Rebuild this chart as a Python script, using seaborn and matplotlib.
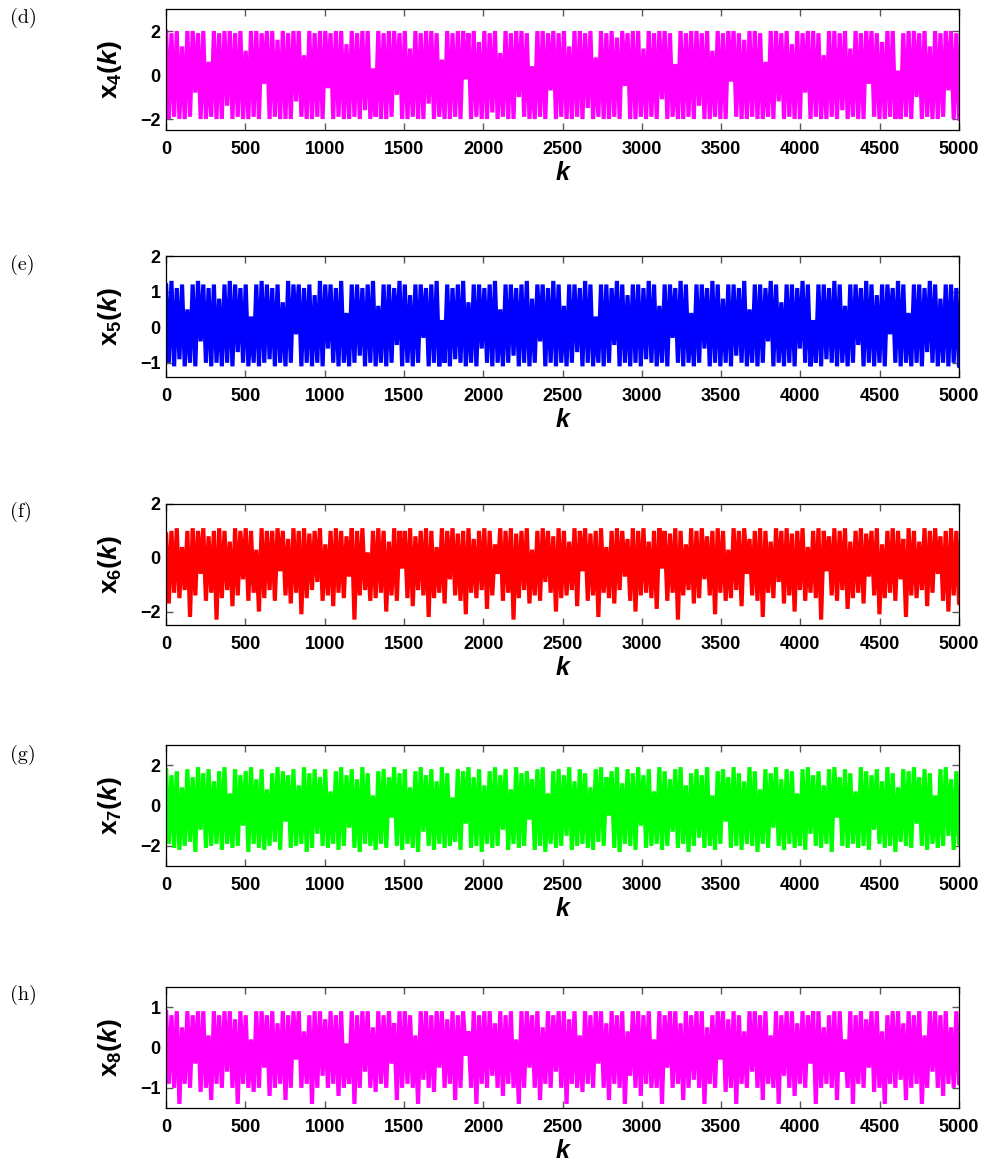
# =========================
# IMPORT LIBRARIES
# =========================

import numpy as np
import matplotlib
matplotlib.use("Agg")
import matplotlib.pyplot as plt
import seaborn as sns

# =========================
# DATA
# =========================

x4_vals = [
    2.0, -2.0, 1.9, -1.9, 2.0, -2.0, 1.3, -2.0, 2.0, -1.9, 2.0, -0.8, 1.9, -2.0, 2.0, -2.0, 0.6, -1.9, 2.0, -2.0,
    1.9, -2.0, 2.0, -1.4, 2.0, -2.0, 1.9, -1.9, 2.0, -2.0, 1.1, -2.0, 2.0, -1.9, 2.0, -2.0, 1.9, -0.4, 2.0, -2.0,
    2.0, -1.9, 1.6, -2.0, 2.0, -2.0, 1.9, -2.0, 2.0, -1.2, 2.0, -1.9, 0.9, -2.0, 2.0, -2.0, 1.9, -1.9, 2.0, -2.0,
    2.0, -0.6, 1.9, -2.0, 2.0, -1.9, 2.0, -2.0, 1.4, -2.0, 2.0, -1.9, 1.9, -2.0, 2.0, -1.6, 2.0, -2.0, 0.3, -1.9,
    2.0, -2.0, 1.9, -2.0, 2.0, -1.9, 2.0, -0.9, 1.9, -2.0, 2.0, -2.0, 1.2, -1.9, 2.0, -2.0, 1.9, -2.0, 2.0, -1.3,
    2.0, -2.0, 1.9, -1.9, 0.7, -2.0, 2.0, -2.0, 1.9, -1.9, 2.0, -2.0, 2.0, -0.2, 1.9, -2.0, 2.0, -1.9, 1.5, -2.0,
    2.0, -2.0, 1.9, -1.7, 2.0, -2.0, 1.0, -1.9, 2.0, -2.0, 1.9, -2.0, 2.0, -1.0, 2.0, -1.9, 1.9, -2.0, 0.4, -2.0,
    2.0, -1.9, 2.0, -2.0, 1.9, -0.7, 2.0, -2.0, 1.9, -1.9, 2.0, -2.0, 1.3, -2.0, 2.0, -1.9, 2.0, -2.0, 1.9, -1.5,
    2.0, -2.0, 0.8, -1.9, 2.0, -2.0, 1.9, -2.0, 2.0, -1.9, 1.7, -2.0, 2.0, -0.5, 1.9, -2.0, 2.0, -2.0, 2.0, -1.9,
    1.2, -2.0, 2.0, -1.9, 1.9, -2.0, 2.0, -1.1, 2.0, -2.0, 1.9, -1.9, 0.5, -2.0, 2.0, -2.0, 1.9, -1.9, 2.0, -2.0,
    2.0, -1.4, 1.9, -2.0, 2.0, -2.0, 1.1, -1.9, 2.0, -2.0, 1.9, -2.0, 2.0, -0.3, 2.0, -1.9, 1.9, -2.0, 1.6, -2.0,
    2.0, -1.9, 2.0, -2.0, 1.9, -2.0, 0.6, -1.9, 2.0, -2.0, 2.0, -1.2, 1.9, -2.0, 2.0, -1.9, 1.4, -2.0, 2.0, -2.0,
    1.9, -0.8, 2.0, -2.0, 2.0, -1.9, 1.9, -2.0, 0.9, -2.0, 2.0, -1.9, 2.0, -2.0, 1.9, -1.6, 2.0, -2.0, 1.2, -1.9,
    2.0, -2.0, 1.9, -2.0, 2.0, -0.4, 2.0, -1.9, 1.9, -2.0, 1.5, -2.0, 2.0, -1.9, 2.0, -2.0, 0.2, -2.0, 1.9, -1.9,
    2.0, -2.0, 2.0, -1.0, 1.9, -2.0, 2.0, -1.9, 1.3, -2.0, 2.0, -2.0, 1.9, -1.9, 2.0, -0.7, 2.0, -2.0, 1.9, -2.0,
]

x5_vals = [
    1.2, -1.0, 1.3, -1.1, 1.1, -0.9, 1.2, -1.1, 0.5, -1.0, 1.2, -1.1, 1.3, -0.4, 1.2, -1.0, 1.1, -1.1, 1.2, -1.0,
    0.8, -1.1, 1.2, -1.0, 1.3, -1.1, 1.2, -0.7, 1.1, -1.0, 1.2, -1.1, 0.3, -1.0, 1.2, -1.1, 1.3, -1.0, 1.2, -0.9,
    1.1, -1.1, 1.2, -1.0, 0.7, -1.1, 1.3, -1.0, 1.2, -0.2, 1.2, -1.1, 1.1, -1.0, 1.2, -1.1, 0.9, -1.0, 1.3, -1.1,
    1.2, -0.6, 1.2, -1.0, 1.1, -1.1, 1.3, -1.0, 0.4, -1.1, 1.2, -1.0, 1.2, -0.8, 1.1, -1.1, 1.2, -1.0, 1.3, -1.1,
    0.6, -1.0, 1.2, -1.1, 1.2, -1.0, 1.1, -0.5, 1.3, -1.1, 1.2, -1.0, 0.9, -1.1, 1.2, -1.0, 1.2, -0.3, 1.1, -1.1,
    1.2, -1.0, 1.3, -1.1, 0.2, -1.0, 1.2, -1.1, 1.1, -0.9, 1.2, -1.0, 1.3, -1.1, 0.7, -1.0, 1.2, -1.1, 1.2, -0.6,
    1.1, -1.0, 1.2, -1.1, 1.3, -1.0, 0.5, -1.1, 1.2, -1.0, 1.2, -0.8, 1.1, -1.1, 1.2, -1.0, 1.3, -1.1, 0.8, -1.0,
    1.2, -0.4, 1.2, -1.1, 1.1, -1.0, 1.3, -1.1, 1.2, -1.0, 0.6, -1.1, 1.2, -1.0, 1.2, -0.7, 1.1, -1.1, 1.3, -1.0,
    1.2, -1.1, 0.3, -1.0, 1.2, -1.1, 1.2, -1.0, 1.1, -0.5, 1.3, -1.1, 1.2, -1.0, 0.9, -1.1, 1.2, -1.0, 1.2, -1.1,
    1.1, -0.9, 1.3, -1.0, 1.2, -1.1, 0.6, -1.0, 1.2, -1.1, 1.2, -0.3, 1.1, -1.0, 1.3, -1.1, 1.2, -1.0, 0.4, -1.1,
    1.2, -1.0, 1.2, -0.6, 1.1, -1.1, 1.3, -1.0, 1.2, -1.1, 0.8, -1.0, 1.2, -1.1, 1.2, -0.8, 1.1, -1.0, 1.3, -1.1,
    0.5, -1.0, 1.2, -1.1, 1.2, -1.0, 1.1, -0.4, 1.3, -1.1, 1.2, -1.0, 0.7, -1.1, 1.2, -1.0, 1.2, -1.1, 1.1, -0.6,
    1.3, -1.0, 1.2, -1.1, 0.2, -1.0, 1.2, -1.1, 1.2, -0.9, 1.1, -1.0, 1.3, -1.1, 1.2, -1.0, 0.6, -1.1, 1.2, -1.0,
    1.2, -0.5, 1.1, -1.1, 1.3, -1.0, 1.2, -1.1, 0.9, -1.0, 1.2, -1.1, 1.2, -0.2, 1.1, -1.0, 1.3, -1.1, 1.2, -1.0,
    0.4, -1.1, 1.2, -1.0, 1.2, -1.1, 1.1, -0.7, 1.3, -1.0, 1.2, -1.1, 0.8, -1.0, 1.2, -1.1, 1.2, -1.0, 1.1, -1.1,
]

x6_vals = [
    0.9, -1.7, 1.0, -1.3, 1.1, -1.5, 0.4, -1.2, 1.0, -2.2, 1.1, -1.4, 1.0, -0.6, 1.1, -1.6, 0.8, -1.3, 1.0, -2.3,
    1.1, -1.5, 1.0, -1.2, 0.6, -1.8, 1.1, -1.4, 1.0, -0.8, 1.1, -1.6, 1.0, -1.3, 0.3, -2.0, 1.1, -1.5, 1.0, -1.2,
    1.0, -1.6, 1.1, -0.5, 1.0, -1.4, 0.7, -1.7, 1.1, -1.3, 1.0, -2.1, 1.1, -1.5, 0.9, -1.2, 1.0, -0.9, 1.1, -1.6,
    0.5, -1.4, 1.0, -1.8, 1.1, -1.3, 1.0, -1.5, 0.8, -0.7, 1.1, -2.3, 1.0, -1.4, 1.1, -1.2, 0.2, -1.6, 1.0, -1.5,
    1.1, -1.3, 1.0, -2.0, 0.6, -1.4, 1.1, -1.6, 1.0, -0.4, 1.0, -1.5, 1.1, -1.8, 0.8, -1.2, 1.0, -1.4, 1.1, -2.2,
    1.0, -1.5, 0.4, -1.3, 1.1, -1.7, 1.0, -0.8, 1.1, -1.4, 0.9, -1.6, 1.0, -2.1, 1.1, -1.3, 0.7, -1.5, 1.0, -1.2,
    1.1, -1.9, 1.0, -1.4, 0.5, -0.6, 1.1, -1.6, 1.0, -1.3, 1.1, -2.3, 0.9, -1.5, 1.0, -1.2, 1.1, -1.7, 0.3, -1.4,
    1.0, -1.6, 1.1, -0.9, 1.0, -1.3, 0.8, -2.0, 1.1, -1.5, 1.0, -1.4, 0.6, -1.2, 1.1, -1.8, 1.0, -0.5, 1.1, -1.6,
    0.9, -1.4, 1.0, -2.2, 1.1, -1.3, 0.4, -1.5, 1.0, -1.7, 1.1, -1.2, 1.0, -0.7, 0.7, -1.6, 1.1, -2.0, 1.0, -1.4,
    1.1, -1.3, 0.6, -1.5, 1.0, -1.9, 1.1, -0.4, 1.0, -1.6, 0.9, -1.3, 1.1, -2.3, 1.0, -1.4, 0.5, -1.2, 1.1, -1.7,
    1.0, -1.5, 1.1, -0.8, 0.8, -1.4, 1.0, -2.1, 1.1, -1.3, 1.0, -1.6, 0.3, -1.5, 1.1, -1.2, 1.0, -1.8, 1.1, -0.6,
    0.7, -1.4, 1.0, -1.6, 1.1, -2.2, 1.0, -1.3, 0.6, -1.5, 1.1, -0.9, 1.0, -1.7, 1.1, -1.4, 0.9, -2.0, 1.0, -1.2,
    1.1, -1.6, 0.4, -1.3, 1.0, -1.5, 1.1, -2.3, 1.0, -0.5, 0.8, -1.4, 1.1, -1.6, 1.0, -1.2, 1.1, -1.9, 0.6, -1.5,
    1.0, -1.3, 1.1, -1.7, 0.9, -0.7, 1.0, -1.4, 1.1, -2.1, 0.5, -1.5, 1.0, -1.3, 1.1, -1.6, 1.0, -0.8, 0.7, -2.2,
    1.1, -1.4, 1.0, -1.5, 0.6, -1.2, 1.1, -1.8, 1.0, -1.3, 1.1, -0.6, 0.8, -1.6, 1.0, -2.0, 1.1, -1.4, 1.0, -1.7,
]

x7_vals = [
    1.8, -1.9, 1.5, -2.1, 1.7, -2.2, 0.9, -2.0, 1.8, -1.8, 1.4, -2.3, 1.9, -1.2, 1.6, -2.1, 1.8, -2.0, 1.2, -1.9,
    1.7, -2.2, 1.9, -1.9, 0.6, -2.1, 1.8, -2.0, 1.5, -1.0, 1.7, -2.3, 1.9, -1.9, 1.3, -2.1, 1.8, -2.2, 0.8, -2.0,
    1.6, -1.8, 1.9, -2.2, 1.7, -0.8, 1.5, -2.1, 1.8, -2.0, 1.0, -1.9, 1.9, -2.3, 1.6, -2.1, 1.8, -1.4, 1.4, -2.0,
    1.8, -2.1, 0.7, -1.9, 1.7, -2.2, 1.9, -2.0, 1.5, -1.1, 1.8, -2.1, 1.3, -2.3, 1.9, -1.9, 1.6, -2.0, 0.5, -2.2,
    1.7, -1.9, 1.8, -2.1, 1.4, -0.6, 1.9, -2.0, 1.6, -2.2, 1.8, -1.9, 0.9, -2.1, 1.7, -2.3, 1.9, -1.3, 1.5, -2.0,
    1.8, -2.2, 1.2, -1.9, 1.9, -2.1, 1.6, -2.0, 0.4, -1.8, 1.8, -2.2, 1.7, -0.9, 1.9, -2.1, 1.4, -2.0, 1.8, -2.3,
    1.0, -1.9, 1.7, -2.1, 1.9, -2.0, 1.5, -1.2, 1.8, -2.2, 0.8, -1.9, 1.9, -2.1, 1.6, -2.0, 1.7, -0.7, 1.3, -2.2,
    1.8, -2.0, 1.9, -2.3, 0.6, -1.9, 1.7, -2.1, 1.8, -2.0, 1.5, -1.5, 1.9, -2.2, 1.2, -2.0, 1.8, -1.9, 1.6, -2.1,
    0.9, -2.2, 1.8, -1.8, 1.9, -2.0, 1.4, -0.5, 1.7, -2.1, 1.9, -2.3, 1.1, -1.9, 1.8, -2.0, 1.6, -2.2, 1.9, -1.0,
    1.5, -2.1, 1.8, -2.0, 0.7, -1.9, 1.9, -2.2, 1.7, -2.0, 1.3, -1.3, 1.8, -2.1, 1.9, -1.9, 1.0, -2.3, 1.6, -2.0,
    1.8, -1.6, 1.5, -2.1, 1.9, -2.0, 0.5, -2.2, 1.7, -1.9, 1.8, -0.8, 1.4, -2.1, 1.9, -2.0, 1.6, -2.2, 1.2, -1.9,
    1.9, -2.0, 1.7, -2.3, 0.8, -1.9, 1.8, -2.1, 1.6, -1.1, 1.9, -2.0, 1.3, -2.2, 1.8, -1.9, 1.7, -2.1, 0.6, -2.0,
    1.8, -2.2, 1.9, -1.4, 1.5, -2.0, 1.7, -2.1, 1.0, -1.9, 1.8, -2.3, 1.9, -0.6, 1.4, -2.0, 1.8, -2.1, 1.6, -1.9,
    0.7, -2.1, 1.9, -2.0, 1.7, -2.2, 1.5, -1.2, 1.8, -1.9, 1.2, -2.1, 1.9, -2.0, 1.6, -2.3, 0.9, -1.8, 1.8, -2.0,
    1.7, -2.1, 1.9, -0.9, 1.4, -2.0, 1.8, -2.2, 1.6, -1.9, 0.5, -2.1, 1.8, -2.0, 1.9, -1.5, 1.3, -2.2, 1.7, -1.9,
]

x8_vals = [
    0.9, -0.9, 0.8, -1.0, 0.9, -1.4, 0.5, -0.9, 0.9, -1.0, 0.8, -0.4, 0.9, -1.1, 0.9, -1.0, 0.3, -1.3, 0.9, -0.9,
    0.8, -1.0, 0.9, -0.6, 0.9, -1.0, 0.7, -1.4, 0.9, -0.9, 0.8, -1.0, 0.2, -1.1, 0.9, -1.0, 0.9, -0.5, 0.8, -1.2,
    0.9, -1.0, 0.6, -0.9, 0.9, -1.3, 0.8, -1.0, 0.9, -0.3, 0.9, -1.0, 0.4, -0.9, 0.8, -1.4, 0.9, -1.0, 0.9, -0.7,
    0.7, -1.0, 0.9, -0.9, 0.8, -1.2, 0.9, -1.0, 0.1, -0.9, 0.9, -1.4, 0.8, -1.0, 0.9, -0.6, 0.9, -1.0, 0.5, -1.1,
    0.9, -0.9, 0.8, -1.0, 0.9, -0.4, 0.6, -1.3, 0.9, -1.0, 0.9, -0.9, 0.8, -1.0, 0.3, -1.4, 0.9, -0.8, 0.9, -1.0,
    0.8, -1.1, 0.9, -0.5, 0.9, -1.0, 0.7, -0.9, 0.9, -1.3, 0.8, -1.0, 0.9, -0.2, 0.4, -1.0, 0.9, -1.4, 0.8, -0.9,
    0.9, -1.0, 0.9, -0.7, 0.6, -1.0, 0.9, -1.2, 0.8, -0.9, 0.9, -1.0, 0.2, -1.4, 0.9, -1.0, 0.9, -0.5, 0.8, -1.0,
    0.9, -1.3, 0.5, -0.9, 0.9, -1.0, 0.8, -0.6, 0.9, -1.0, 0.9, -1.4, 0.7, -0.9, 0.9, -1.0, 0.3, -1.1, 0.9, -0.9,
    0.8, -1.0, 0.9, -0.4, 0.9, -1.0, 0.6, -1.3, 0.9, -0.9, 0.8, -1.0, 0.9, -1.4, 0.4, -0.7, 0.9, -1.0, 0.9, -1.2,
    0.8, -0.9, 0.9, -1.0, 0.2, -1.0, 0.9, -1.4, 0.8, -0.5, 0.9, -1.0, 0.9, -0.9, 0.6, -1.3, 0.9, -1.0, 0.8, -0.8,
    0.9, -1.0, 0.9, -1.4, 0.5, -0.9, 0.8, -1.0, 0.9, -0.3, 0.9, -1.1, 0.7, -1.0, 0.9, -1.4, 0.8, -0.9, 0.4, -1.0,
    0.9, -0.6, 0.9, -1.0, 0.8, -1.3, 0.9, -0.9, 0.3, -1.0, 0.9, -1.4, 0.8, -0.7, 0.9, -1.0, 0.9, -1.2, 0.6, -0.9,
    0.9, -1.0, 0.8, -0.4, 0.9, -1.4, 0.9, -1.0, 0.5, -0.9, 0.8, -1.0, 0.9, -1.3, 0.9, -0.6, 0.2, -1.0, 0.9, -1.4,
    0.8, -0.9, 0.9, -1.0, 0.7, -0.5, 0.9, -1.1, 0.9, -1.0, 0.4, -1.4, 0.8, -0.9, 0.9, -1.0, 0.9, -0.8, 0.6, -1.3,
    0.9, -1.0, 0.8, -0.9, 0.9, -1.4, 0.3, -1.0, 0.9, -0.6, 0.9, -1.0, 0.8, -1.2, 0.9, -0.9, 0.5, -1.0, 0.9, -0.9,
]

series = [x4_vals, x5_vals, x6_vals, x7_vals, x8_vals]
panel_tags = ["(d)", "(e)", "(f)", "(g)", "(h)"]
subscripts = ["4", "5", "6", "7", "8"]
line_colors = ["#ff00ff", "#0000ff", "#ff0000", "#00ff00", "#ff00ff"]
y_limits = [(-2.5, 3), (-1.4, 2), (-2.5, 2), (-3, 3), (-1.5, 1.5)]
y_ticks = [[-2, 0, 2], [-1, 0, 1, 2], [-2, 0, 2], [-2, 0, 2], [-1, 0, 1]]
x_ticks = list(range(0, 5001, 500))

# =========================
# STYLE
# =========================

sns.set_style("ticks")
plt.rcParams["font.family"] = ["Liberation Sans", "DejaVu Sans"]
plt.rcParams["text.color"] = "black"
plt.rcParams["axes.labelcolor"] = "black"
plt.rcParams["xtick.labelcolor"] = "black"
plt.rcParams["ytick.labelcolor"] = "black"
plt.rcParams["mathtext.fontset"] = "custom"
plt.rcParams["mathtext.rm"] = "Liberation Sans:bold"
plt.rcParams["mathtext.it"] = "Liberation Sans:bold:italic"
plt.rcParams["mathtext.bf"] = "Liberation Sans:bold"

W, H = 989, 1163
fig = plt.figure(figsize=(W / 100, H / 100), dpi=100)

# axes boxes in pixels (top edge), all same left/width/height
ax_left, ax_right, ax_h = 166, 959, 121
ax_tops = [9, 256, 504, 745, 987]
tag_y = [18, 265, 512, 755, 995]

# =========================
# PANELS
# =========================

for i, vals in enumerate(series):

    ax = fig.add_axes([
        ax_left / W,
        1 - (ax_tops[i] + ax_h) / H,
        (ax_right - ax_left) / W,
        ax_h / H
    ])

    k = np.linspace(1, 5000, len(vals))

    sns.lineplot(
        x=k,
        y=vals,
        ax=ax,
        color=line_colors[i],
        linewidth=3.0,
        solid_joinstyle="bevel",
        estimator=None,
        sort=False
    )

    ax.set_xlim(0, 5000)
    ax.set_ylim(*y_limits[i])
    ax.set_xticks(x_ticks)
    ax.set_yticks(y_ticks[i])

    ax.tick_params(
        direction="in",
        length=5,
        width=1,
        color="0.35",
        top=True,
        right=True,
        labelsize=13
    )
    ax.tick_params(axis="x", pad=8)
    ax.tick_params(axis="y", pad=4)

    for lab in ax.get_xticklabels() + ax.get_yticklabels():
        lab.set_fontweight("bold")

    for sp in ax.spines.values():
        sp.set_visible(True)
        sp.set_color("black")
        sp.set_linewidth(0.9)
        sp.set_zorder(5)

    ax.set_xlabel(
        "k",
        fontsize=18,
        fontweight="bold",
        fontstyle="italic",
        labelpad=2
    )
    ax.set_ylabel(
        r"$\mathrm{x}_{\mathit{" + subscripts[i] + r"}}\mathit{(k)}$",
        fontsize=19
    )
    ax.yaxis.set_label_coords(-0.053, 0.5)

    fig.text(
        10 / W,
        1 - tag_y[i] / H,
        panel_tags[i],
        fontfamily="cmr10",
        fontsize=14.5,
        ha="left",
        va="center"
    )

plt.savefig("out.png", dpi=100)
